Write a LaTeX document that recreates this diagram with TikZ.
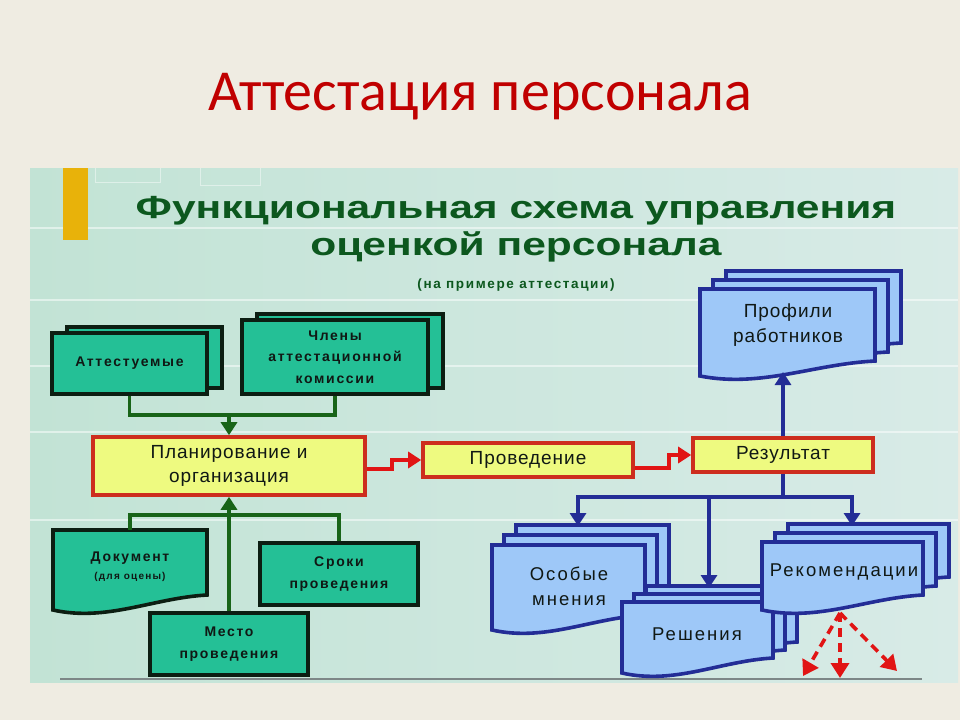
\documentclass[tikz,border=0pt]{standalone}
\usepackage{fontspec}
\setmainfont{Liberation Sans}
\newfontfamily\titlefont{Carlito}
\newfontfamily\spfont[LetterSpace=12]{Liberation Sans}
\newfontfamily\mspfont[LetterSpace=5]{Liberation Sans}
\newfontfamily\bspfont[LetterSpace=11]{Liberation Sans}
\usetikzlibrary{arrows.meta,calc}
\definecolor{bg}{RGB}{239,236,226}
\definecolor{titlered}{RGB}{192,0,0}
\definecolor{picL}{RGB}{194,227,213}
\definecolor{picM}{RGB}{243,249,248}
\definecolor{picR}{RGB}{216,235,231}
\definecolor{barcol}{RGB}{232,178,10}
\definecolor{hgreen}{RGB}{12,88,30}
\definecolor{gfill}{RGB}{36,192,150}
\definecolor{gborder}{RGB}{12,30,18}
\definecolor{glinecol}{RGB}{24,100,24}
\definecolor{yfill}{RGB}{238,250,128}
\definecolor{rborder}{RGB}{205,45,30}
\definecolor{rarrow}{RGB}{225,20,20}
\definecolor{bfill}{RGB}{158,200,248}
\definecolor{bborder}{RGB}{35,45,150}
\definecolor{txt}{RGB}{16,24,20}
\definecolor{gray1}{RGB}{125,135,135}
\newcommand\docshape[5]{%
  \path[#5] (#1,#2) -- (#3,#2) -- (#3,{#4-15})
    .. controls ({#3-0.35*(#3-#1)},{#4-12}) and ({#1+0.35*(#3-#1)},{#4+12}) .. (#1,#4) -- cycle;}
\newcommand\docstack[7]{%
  \foreach \k in {2,1,0}{%
    \begin{scope}[shift={({\k*#5},{\k*#6})}]
      \docshape{#1}{#2}{#3}{#4}{#7}
    \end{scope}}}
\tikzset{
  gbox/.style={draw=gborder, fill=gfill, line width=3.6pt, inner sep=0pt, text=txt, align=center, font=\spfont\bfseries\fontsize{14}{21.5}\selectfont},
  ybox/.style={draw=rborder, fill=yfill, line width=3.6pt, inner sep=0pt, text=txt, align=center, font=\mspfont\fontsize{19}{24}\selectfont},
  bdoc/.style={draw=bborder, fill=bfill, line width=3.6pt},
  gdoc/.style={draw=gborder, fill=gfill, line width=3.6pt},
  btext/.style={text=txt, align=center, font=\mspfont\fontsize{19}{25}\selectfont},
  bstext/.style={text=txt, align=center, font=\bspfont\fontsize{18.5}{25}\selectfont},
  glink/.style={draw=glinecol, line width=3.8pt},
  rlink/.style={draw=rarrow, line width=3.6pt},
  blink/.style={draw=bborder, line width=3.6pt},
  gtip/.style={-{Triangle[width=16pt,length=13pt]}},
  rdash/.style={draw=rarrow, line width=3.6pt, dash pattern=on 9pt off 6pt, -{Triangle[width=18pt,length=15pt]}},
  hd/.style={text=hgreen, inner sep=0pt}
}
\begin{document}
\begin{tikzpicture}[x=1pt,y=-1pt]
\useasboundingbox (0,0) rectangle (960,720);
\fill[bg] (0,0) rectangle (960,720);
% slide title
\node[text=titlered, font=\titlefont\fontsize{58}{60}\selectfont] (title) at (480,97) {Аттестация персонала};
% picture background
\shade[left color=picL, middle color=picM, right color=picR] (30,168) rectangle (958,682);
\foreach \yy in {228,300,366,432,520} \draw[white, line width=1.2pt, opacity=0.5] (30,\yy) -- (958,\yy);
\draw[white, line width=1pt, opacity=0.45] (95,168) -- (95,182) -- (160,182) -- (160,168) (200,168) -- (200,185) -- (260,185) -- (260,168);
\fill[fill=barcol] (63,168) rectangle (88,240);
\draw[gray1, line width=1.5pt] (60,679) -- (922,679);
% heading
\node[hd, font=\bfseries\fontsize{32}{36}\selectfont] (h1) at (516,211) {\scalebox{1.33}[1]{Функциональная схема управления}};
\node[hd, font=\bfseries\fontsize{32}{36}\selectfont] (h2) at (516,247) {\scalebox{1.33}[1]{оценкой персонала}};
\node[hd, font=\spfont\bfseries\fontsize{13.5}{16}\selectfont] (h3) at (516,285) {(на примере аттестации)};
% green stacked boxes
\draw[gbox] (67,327) rectangle (222,388);
\node[gbox, minimum width=155pt, minimum height=61pt] (att) at (129.5,363.5) {Аттестуемые};
\draw[gbox] (257,314) rectangle (443,388);
\node[gbox, minimum width=186pt, minimum height=74pt] (chl) at (335,357) {Члены\\аттестационной\\комиссии};
% yellow boxes
\node[ybox, minimum width=272pt, minimum height=58pt] (plan) at (229,466) {Планирование и\\организация};
\node[ybox, minimum width=210pt, minimum height=34pt] (prov) at (528,460) {Проведение};
\node[ybox, minimum width=180pt, minimum height=34pt] (res) at (783,455) {Результат};
% green lower boxes
\docshape{53}{530}{207}{610}{gdoc}
\node[minimum width=154pt, minimum height=70pt, inner sep=0pt] (doc) at (130,565) {};
\node[text=txt, font=\spfont\bfseries\fontsize{14}{16}\selectfont] (doct) at (130,558) {Документ};
\node[text=txt, font=\spfont\bfseries\fontsize{10}{12}\selectfont] (docs) at (130,577) {(для оцены)};
\node[gbox, minimum width=158pt, minimum height=62pt] (srok) at (339,574) {Сроки\\проведения};
\node[gbox, minimum width=158pt, minimum height=62pt] (mesto) at (229,644) {Место\\проведения};
% green connectors
\coordinate (j1) at (229,415);
\draw[glink] (att.south) |- (j1) -| (chl.south);
\draw[glink, gtip] (j1) -- (plan.north);
\coordinate (j2) at (229,515);
\draw[glink] (doc.north) |- (j2) -| (srok.north);
\draw[glink, gtip] (mesto.north) -- (plan.south);
% red connectors
\draw[rlink, gtip] ($(plan.east)+(0,3)$) -- ++(25,0) |- (prov.west);
\draw[rlink, gtip] ($(prov.east)+(0,8)$) -- ++(34,0) |- (res.west);
% blue documents
\docstack{700}{289}{875}{376}{13}{-9}{bdoc}
\node[btext] (prof) at (788,325) {Профили\\работников};
\docstack{492}{545}{645}{630}{12}{-10}{bdoc}
\node[bstext] (osob) at (569,586) {Особые\\мнения};
\docstack{622}{602}{773}{673}{12}{-8}{bdoc}
\node[bstext] (resh) at (697,634) {Решения};
\docstack{762}{542}{923}{610}{13}{-9}{bdoc}
\node[bstext] (rek) at (844,572) {Рекомендации};
% blue connectors
\coordinate (profb) at (783,372);
\draw[blink, gtip] (res.north) -- (profb);
\coordinate (j3) at (783,497);
\coordinate (j4) at (709,497);
\coordinate (osobt) at (578,526);
\coordinate (rekt) at (852,526);
\coordinate (resht) at (709,588);
\draw[blink] (res.south) -- (j3);
\draw[blink, gtip] (j3) -| (osobt);
\draw[blink, gtip] (j3) -| (rekt);
\draw[blink, gtip] (j4) -- (resht);
% red dashed arrows
\coordinate (rs) at (840,613);
\coordinate (e1) at (803,676);
\coordinate (e2) at (840,678);
\coordinate (e3) at (897,671);
\draw[rdash] (rs) -- (e1);
\draw[rdash] (rs) -- (e2);
\draw[rdash] (rs) -- (e3);
\end{tikzpicture}
\end{document}
